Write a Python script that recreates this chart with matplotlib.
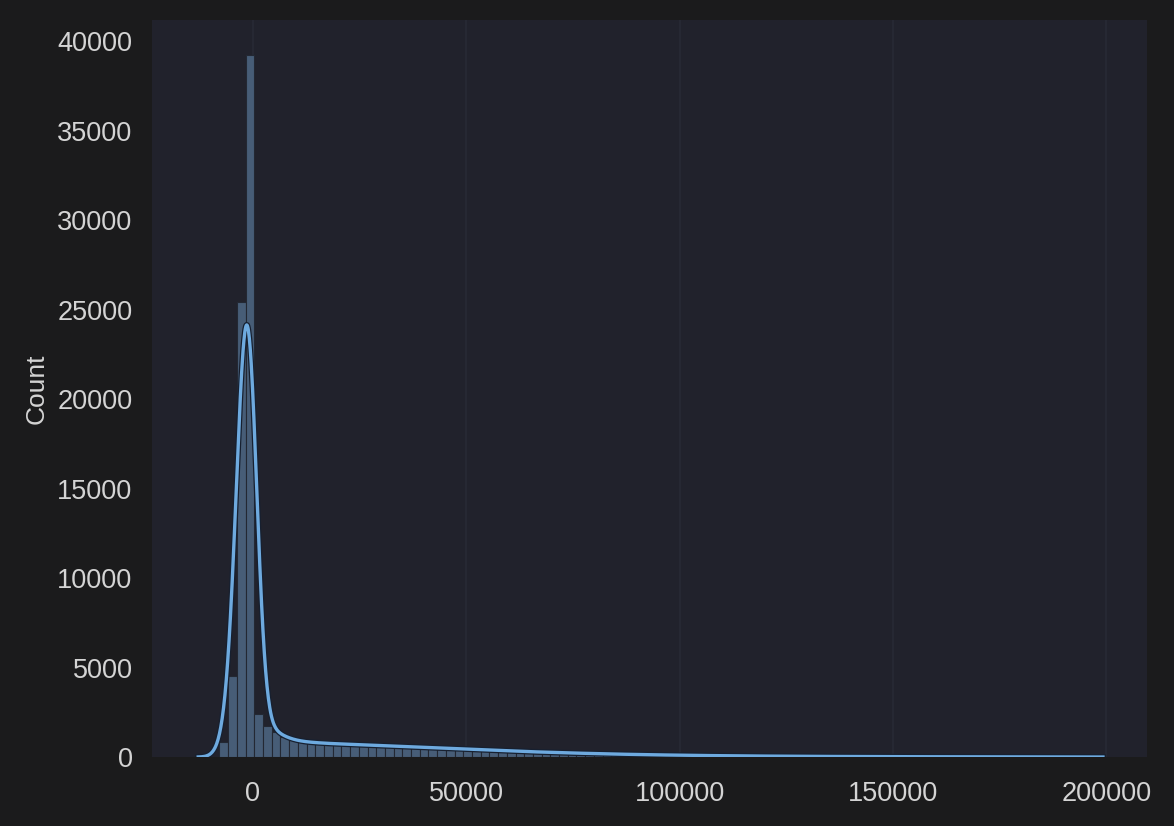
import numpy as np
import matplotlib.pyplot as plt
import matplotlib.patheffects as pe

# histogram bins (width ~2040, first edge ~-7800)
bin_start = -7800
bin_width = 2040
counts = [
    855, 4520, 25400, 39200, 2400, 1730, 1410,
    1130, 960, 870, 820, 790, 760, 740, 720, 700, 680,
    660, 640, 620, 600, 580, 560, 540, 520, 500, 480,
    460, 440, 420, 400, 380, 360, 340, 320, 300, 285,
    270, 255, 240, 225, 212, 200, 188, 176, 165, 155,
    145, 136, 128, 120,
    112, 105, 98, 92, 86, 80, 75, 70, 65, 61,
    57, 53, 50, 47, 44, 41, 38, 36, 34, 32,
    30, 28, 26, 24, 23, 21, 20, 19, 18, 17,
    16, 15, 14, 13, 12, 11, 10, 10, 9, 9,
    8, 8, 7, 7, 6, 6, 5, 5, 4,
]
x_ticks = [0, 50000, 100000, 150000, 200000]
y_ticks = [0, 5000, 10000, 15000, 20000, 25000, 30000, 35000, 40000]
kde_bw = 2000

counts = np.array(counts, dtype=float)
edges = bin_start + bin_width * np.arange(len(counts) + 1)
centers = (edges[:-1] + edges[1:]) / 2

# kde of the binned data, scaled to counts like seaborn does
grid = np.linspace(centers[0] - 3 * kde_bw, centers[-1] + 2 * kde_bw, 2000)
dens = np.zeros_like(grid)
for c, n in zip(centers, counts):
    dens += n * np.exp(-0.5 * ((grid - c) / kde_bw) ** 2)
dens = dens / (kde_bw * np.sqrt(2 * np.pi)) * bin_width

fig = plt.figure(figsize=(11.74, 8.26), dpi=100, facecolor='#1b1b1c')
ax = fig.add_axes([0.1295, 0.0835, 0.8475, 0.892])
ax.set_facecolor('#21222c')

ax.bar(edges[:-1], counts, width=bin_width, align='edge',
       color='#475d77', edgecolor='#232833', linewidth=0.8, zorder=2)
ax.plot(grid, dens, color='#6eaadf', linewidth=2.4, zorder=3,
        path_effects=[pe.Stroke(linewidth=4.2, foreground='#172030'), pe.Normal()])

ax.set_xlim(-23600, 209500)
ax.set_ylim(0, 41160)
ax.set_xticks(x_ticks)
ax.set_yticks(y_ticks)
ax.grid(axis='x', color='#282a35', linewidth=1.2, zorder=0)
ax.set_axisbelow(True)
for s in ax.spines.values():
    s.set_visible(False)
ax.tick_params(length=0, labelsize=19.5, colors='#d4d4d4')
ax.tick_params(axis='x', pad=17)
ax.tick_params(axis='y', pad=14)
for lab in ax.get_xticklabels() + ax.get_yticklabels():
    lab.set_family('Liberation Sans')
ax.set_ylabel('Count', fontsize=19, color='#d4d4d4', family='Liberation Sans', labelpad=6)

fig.savefig('out.png', dpi=100, facecolor=fig.get_facecolor())
